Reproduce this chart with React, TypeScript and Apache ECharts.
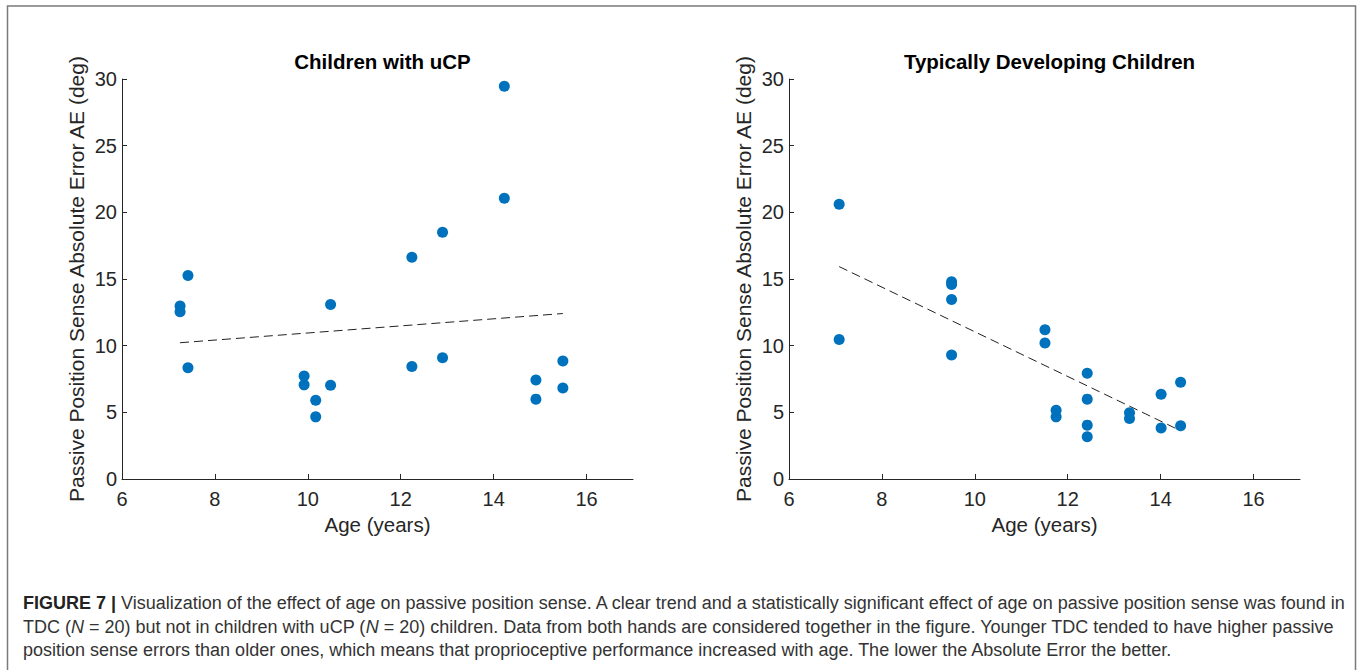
import React, { useEffect, useRef } from "react";
import * as echarts from "echarts";

// ---- Data ----
const ucpAge = [7.25, 7.25, 7.42, 7.42, 9.92, 9.92, 10.17, 10.17, 10.49, 10.49, 12.24, 12.24, 12.9, 12.9, 14.23, 14.23, 14.91, 14.91, 15.49, 15.49];
const ucpAE = [12.97, 12.54, 15.26, 8.35, 7.73, 7.06, 5.91, 4.66, 13.09, 7.03, 16.63, 8.43, 18.5, 9.1, 29.45, 21.05, 7.43, 5.99, 8.85, 6.83];
const tdcAge = [7.08, 7.08, 9.5, 9.5, 9.5, 9.5, 11.51, 11.51, 11.75, 11.75, 12.42, 12.42, 12.42, 12.42, 13.33, 13.33, 14.01, 14.01, 14.43, 14.43];
const tdcAE = [20.6, 10.47, 14.79, 14.59, 13.47, 9.3, 11.2, 10.2, 5.16, 4.66, 7.93, 5.99, 4.04, 3.17, 4.96, 4.54, 6.36, 3.82, 7.26, 3.99];
const ucpFitX = [7.25, 15.49];
const ucpFitY = [10.22, 12.41];
const tdcFitX = [7.08, 14.43];
const tdcFitY = [15.93, 3.62];
const xTicks = [6, 8, 10, 12, 14, 16];
const yTicks = [0, 5, 10, 15, 20, 25, 30];
const titles = ["Children with uCP", "Typically Developing Children"];
const xName = "Age (years)";
const yName = "Passive Position Sense Absolute Error AE (deg)";

const axisColor = "#262626";
const dotColor = "#0072BD";
const font = "'Liberation Sans', Arial, Helvetica, sans-serif";

const zip = (a: number[], b: number[]) => a.map((v, i) => [v, b[i]]);

export default function App() {
  const ref = useRef<HTMLDivElement>(null);
  useEffect(() => {
    if (!ref.current) return;
    const chart = echarts.init(ref.current, undefined, { renderer: "svg" });
    const grids = [
      { left: 122, top: 79, width: 511, height: 400 },
      { left: 789, top: 79, width: 511, height: 400 },
    ];
    const xAxis = grids.map((_, i) => ({
      type: "value",
      gridIndex: i,
      min: 6,
      max: 17,
      interval: 2,
      name: xName,
      nameLocation: "middle",
      nameGap: 35,
      nameTextStyle: { fontSize: 20.5, color: axisColor, fontFamily: font },
      axisLine: { show: true, lineStyle: { color: axisColor, width: 1 } },
      axisTick: { show: true, inside: true, length: 5, customValues: xTicks, lineStyle: { color: axisColor } },
      axisLabel: { show: true, customValues: xTicks, margin: 10, fontSize: 20, color: axisColor, fontFamily: font },
      splitLine: { show: false },
    }));
    const yAxis = grids.map((_, i) => ({
      type: "value",
      gridIndex: i,
      min: 0,
      max: 30,
      interval: 5,
      name: yName,
      nameLocation: "middle",
      nameGap: 35,
      nameTextStyle: { fontSize: 21, color: axisColor, fontFamily: font },
      axisLine: { show: true, lineStyle: { color: axisColor, width: 1 } },
      axisTick: { show: true, inside: true, length: 5, customValues: yTicks, lineStyle: { color: axisColor } },
      axisLabel: { show: true, customValues: yTicks, margin: 5, fontSize: 20, color: axisColor, fontFamily: font },
      splitLine: { show: false },
    }));
    const scatter = (i: number, data: number[][]) => ({
      type: "scatter",
      xAxisIndex: i,
      yAxisIndex: i,
      data,
      symbol: "circle",
      symbolSize: 11,
      itemStyle: { color: dotColor, opacity: 1 },
      z: 3,
    });
    const fit = (i: number, data: number[][]) => ({
      type: "line",
      xAxisIndex: i,
      yAxisIndex: i,
      data,
      symbol: "none",
      lineStyle: { color: "#222", width: 1, type: [9, 5] },
      z: 2,
    });
    const capStyle = { fontSize: 18, fontFamily: font, fill: "#333" };
    chart.setOption({
      animation: false,
      backgroundColor: "#fff",
      title: titles.map((t, i) => ({
        text: t,
        left: grids[i].left + grids[i].width / 2,
        top: 46,
        textAlign: "center",
        textStyle: { fontSize: 20.5, fontWeight: "bold", color: "#000", fontFamily: font },
      })),
      grid: grids,
      xAxis,
      yAxis,
      series: [
        fit(0, zip(ucpFitX, ucpFitY)),
        scatter(0, zip(ucpAge, ucpAE)),
        fit(1, zip(tdcFitX, tdcFitY)),
        scatter(1, zip(tdcAge, tdcAE)),
      ],
      graphic: [
        {
          type: "rect",
          shape: { x: 7.5, y: 6, width: 1348, height: 700 },
          style: { fill: "none", stroke: "#7a7a7a", lineWidth: 1.5 },
          silent: true,
        },
        {
          type: "text",
          left: 23,
          top: 594,
          style: {
            text: "{b|FIGURE 7 |} Visualization of the effect of age on passive position sense. A clear trend and a statistically significant effect of age on passive position sense was found in",
            ...capStyle,
            rich: { b: { fontWeight: "bold", fontSize: 18, fontFamily: font, fill: "#222" } },
          },
        },
        {
          type: "text",
          left: 23,
          top: 618,
          style: {
            text: "TDC ({i|N} = 20) but not in children with uCP ({i|N} = 20) children. Data from both hands are considered together in the figure. Younger TDC tended to have higher passive",
            ...capStyle,
            rich: { i: { fontStyle: "italic", fontSize: 18, fontFamily: font, fill: "#333" } },
          },
        },
        {
          type: "text",
          left: 23,
          top: 641,
          style: {
            text: "position sense errors than older ones, which means that proprioceptive performance increased with age. The lower the Absolute Error the better.",
            ...capStyle,
          },
        },
      ],
    });
    return () => chart.dispose();
  }, []);
  return (
    <div
      ref={ref}
      style={{ position: "absolute", left: 0, top: 0, width: 1357, height: 670 }}
    />
  );
}
